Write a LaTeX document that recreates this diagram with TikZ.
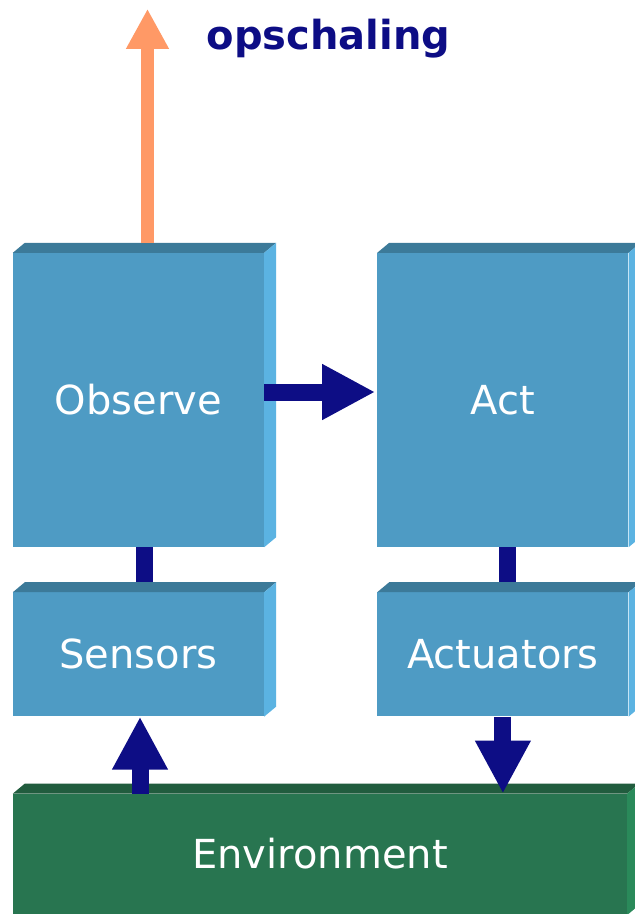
\documentclass[tikz,border=0pt]{standalone}
\usepackage{fontspec}
\setmainfont{DejaVu Sans}
\usetikzlibrary{positioning,arrows.meta}
\definecolor{navyarrow}{RGB}{13,13,133}
\definecolor{orangearrow}{RGB}{255,153,102}
\definecolor{blockfront}{RGB}{78,155,196}
\definecolor{blocktop}{RGB}{60,122,153}
\definecolor{blockside}{RGB}{91,179,226}
\definecolor{envfront}{RGB}{40,117,80}
\definecolor{envtop}{RGB}{33,92,62}
\definecolor{envside}{RGB}{42,138,90}
% top and right face of a slab
\newcommand{\blockfaces}[3]{%
  \fill[#2] (#1.north west) -- ++(12,10) -- ([shift={(12,10)}]#1.north east)
    -- (#1.north east) -- cycle;
  \fill[#3] (#1.north east) -- ++(12,10) -- ([shift={(12,10)}]#1.south east)
    -- (#1.south east) -- cycle;}
\tikzset{
  block/.style={
    rectangle,
    minimum width=251pt,
    inner sep=0pt,
    fill=blockfront,
    text=white,
    text height=29pt,
    text depth=0pt,
    font=\fontsize{40}{48}\selectfont
    },
  env/.style={
    block,
    minimum width=614pt,
    minimum height=121pt,
    fill=envfront
    },
  link/.style={draw=navyarrow, line width=17pt},
  fatarrow/.style={link, -{Triangle[width=52pt,length=53pt]}},
  growarrow/.style={draw=orangearrow, line width=13pt,
    -{Triangle[width=40pt,length=40pt]}},
}

\begin{document}
\begin{tikzpicture}[
    x = 1pt, y = 1pt, % one unit is one pixel
    node distance = 45pt
  ]
  \useasboundingbox (0,0) rectangle (635,-914);
  \clip (0,0) rectangle (635,-914);

  \node[block, minimum height=294pt] (observe) at (138.5,-400) {Observe};
  \node[block, minimum height=294pt, right=113pt of observe] (act) {Act};
  \node[block, minimum height=124pt, below=of observe] (sensors) {Sensors};
  \node[block, minimum height=124pt, below=of act] (actuators) {Actuators};
  \node[env, below=77pt of sensors.south west, anchor=north west] (env) {Environment};

  \blockfaces{observe}{blocktop}{blockside}
  \blockfaces{act}{blocktop}{blockside}
  \blockfaces{sensors}{blocktop}{blockside}
  \blockfaces{actuators}{blocktop}{blockside}
  \blockfaces{env}{envtop}{envside}

  \coordinate (top) at ([xshift=9pt,yshift=244pt]observe.north);
  \node[anchor=base west, text=navyarrow,
    font=\bfseries\fontsize{40}{48}\selectfont] (opschaling) at (203,-49) {opschaling};

  \path[growarrow] ([xshift=9pt,yshift=10pt]observe.north) -- (top);
  \path[fatarrow] ([yshift=8pt]observe.east) -- ([yshift=8pt,xshift=-2pt]act.west);
  \path[link] ([xshift=6pt]observe.south) -- ([xshift=6pt,yshift=10pt]sensors.north);
  \path[link] ([xshift=5pt]act.south) -- ([xshift=5pt,yshift=10pt]actuators.north);
  \path[fatarrow] ([xshift=1.5pt]sensors.south |- env.north) -- ([xshift=1.5pt]sensors.south);
  \path[fatarrow] (actuators.south) -- (actuators.south |- env.north);
\end{tikzpicture}
\end{document}
